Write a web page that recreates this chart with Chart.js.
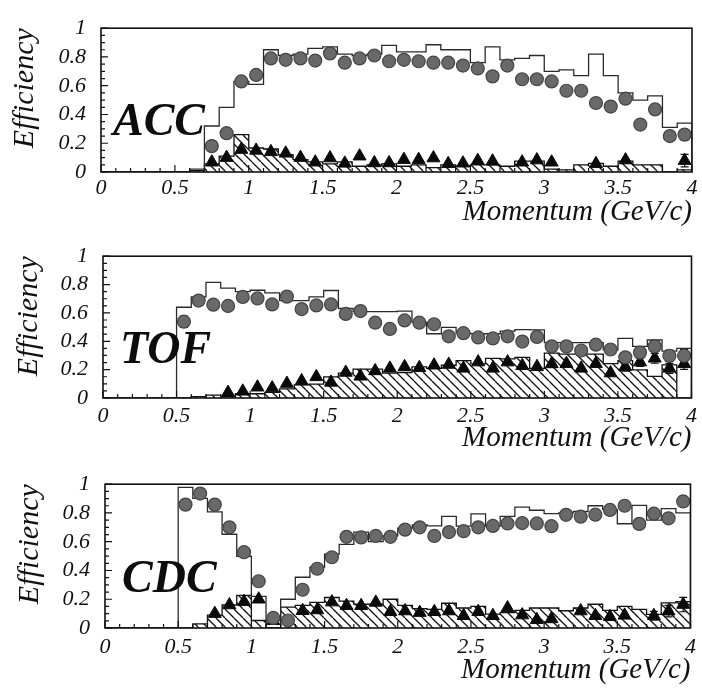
<!DOCTYPE html>
<html>
<head>
<meta charset="utf-8">
<script src="https://cdn.jsdelivr.net/npm/chart.js@4.4.1/dist/chart.umd.min.js"></script>
<style>
  html, body { margin: 0; padding: 0; background: #fff; }
  body { width: 702px; height: 688px; position: relative; overflow: hidden; }
  canvas { position: absolute; left: 0; }
</style>
</head>
<body>
<canvas id="acc" width="702" height="230" style="top:0px"></canvas>
<canvas id="tof" width="702" height="228" style="top:228px"></canvas>
<canvas id="cdc" width="702" height="232" style="top:456px"></canvas>
<script>
// Momentum bins (GeV/c), 0.1 wide, given by their centres
const binCentres = [0.05,0.15,0.25,0.35,0.45,0.55,0.65,0.75,0.85,0.95,
                    1.05,1.15,1.25,1.35,1.45,1.55,1.65,1.75,1.85,1.95,
                    2.05,2.15,2.25,2.35,2.45,2.55,2.65,2.75,2.85,2.95,
                    3.05,3.15,3.25,3.35,3.45,3.55,3.65,3.75,3.85,3.95];
const BIN_HALF = 0.05;
const xTickValues = [0, 0.5, 1, 1.5, 2, 2.5, 3, 3.5, 4];
const yTickValues = [0, 0.2, 0.4, 0.6, 0.8, 1];
const X_TITLE = 'Momentum (GeV/c)';
const Y_TITLE = 'Efficiency';

// ---- ACC ----
const accAll = [0,0,0,0,0,0,0.02,0.32,0.45,0.63,
                0.61,0.85,0.81,0.82,0.86,0.87,0.82,0.81,0.82,0.88,
                0.835,0.835,0.885,0.85,0.85,0.76,0.87,0.78,0.79,0.81,
                0.70,0.71,0.67,0.82,0.67,0.55,0.50,0.53,0.31,0.34];
const accFake = [0,0,0,0,0,0,0.01,0.057,0.11,0.26,
                 0.167,0.16,0.12,0.086,0.07,0.057,0.07,0.04,0.05,0.057,
                 0.04,0.05,0.03,0.05,0.04,0.05,0.05,0.04,0.075,0.075,
                 0.02,0.015,0.05,0.06,0.04,0.075,0.05,0.05,0,0.015];
const accPion = [null,null,null,null,null,null,null,0.18,0.27,0.63,
                 0.675,0.79,0.78,0.79,0.775,0.825,0.76,0.79,0.81,0.77,
                 0.78,0.77,0.76,0.76,0.74,0.72,0.665,0.74,0.645,0.645,
                 0.63,0.565,0.565,0.48,0.455,0.51,0.33,0.435,0.25,0.26];
const accPionErr = [null,null,null,null,null,null,null,null,null,null,
                    null,null,null,null,null,null,null,null,null,null,
                    null,null,null,null,null,null,null,null,null,null,
                    null,0.02,0.02,0.025,0.025,0.03,0.03,0.035,0.03,0.035];
const accKaon = [null,null,null,null,null,null,null,0.068,0.1,0.156,
                 0.15,0.14,0.13,0.1,0.068,0.097,0.06,0.11,0.063,0.063,
                 0.086,0.086,0.097,0.057,0.061,0.079,0.075,null,0.068,0.083,
                 0.068,null,null,0.057,null,0.083,null,null,null,0.079];
const accKaonErr = [null,null,null,null,null,null,null,null,null,null,
                    null,null,null,null,null,null,null,null,null,null,
                    null,null,null,null,null,null,null,null,null,null,
                    null,null,null,null,null,null,null,null,null,0.044];

// ---- TOF ----
const tofAll = [0,0,0,0,0,0.64,0.713,0.815,0.775,0.75,
                0.76,0.742,0.687,0.687,0.713,0.758,0.631,0.609,0.609,0.609,
                0.613,0.535,0.453,0.498,0.457,0.453,0.453,0.471,0.482,0.48,
                0.39,0.39,0.39,0.39,0.34,0.42,0.364,0.409,0.33,0.35];
const tofFake = [0,0,0,0,0,0,0.01,0.02,0.01,0.03,
                 0.03,0.04,0.064,0.093,0.098,0.149,0.176,0.204,0.204,0.176,
                 0.18,0.22,0.209,0.231,0.264,0.24,0.28,0.276,0.287,0.209,
                 0.316,0.31,0.31,0.31,0.242,0.264,0.198,0.153,0.233,0];
const tofPion = [null,null,null,null,null,0.538,0.687,0.658,0.649,0.713,
                 0.702,0.66,0.715,0.627,0.653,0.66,0.593,0.613,0.531,0.487,
                 0.547,0.531,0.52,0.435,0.457,0.427,0.42,0.435,0.398,0.431,
                 0.364,0.364,0.335,0.376,0.342,0.287,0.32,0.364,0.298,0.298];
const tofPionErr = [null,null,null,null,null,0.04,null,null,null,null,
                    null,null,null,null,null,null,null,null,null,null,
                    null,null,null,null,null,null,null,null,null,null,
                    null,null,null,0.025,0.02,0.03,0.035,0.035,0.04,0.045];
const tofKaon = [null,null,null,null,null,null,null,null,0.038,0.047,
                 0.076,0.07,0.102,0.12,0.149,0.11,0.18,0.153,0.191,0.209,
                 0.22,0.213,0.231,0.236,0.209,0.253,0.209,0.253,0.227,0.22,
                 0.24,0.242,0.209,0.242,0.176,0.22,0.253,0.28,0.209,0.242];
const tofKaonErr = [null,null,null,null,null,null,null,null,null,null,
                    null,null,null,null,null,null,null,null,null,null,
                    null,null,null,null,null,null,null,null,null,null,
                    null,null,null,null,null,0.03,0.03,0.035,0.035,0.04];

// ---- CDC ----
const cdcAll = [0,0,0,0,0,0.978,0.902,0.808,0.652,0.499,
                0.22,0,0.2,0.353,0.423,0.514,0.582,0.667,0.6,0.64,
                0.695,0.717,0.71,0.776,0.708,0.793,0.708,0.776,0.841,0.819,
                0.795,0.8,0.81,0.85,0.825,0.725,0.853,0.75,0.83,0.8];
const cdcFake = [0,0,0,0,0,0,0.028,0.09,0.16,0.227,
                 0.052,0,0.145,0.158,0.178,0.212,0.187,0.165,0.165,0.2,
                 0.157,0.135,0.13,0.172,0.139,0.15,0.096,0.107,0.122,0.139,
                 0.139,0.12,0.139,0.165,0.122,0.15,0.13,0.095,0.175,0.183];
const cdcPion = [null,null,null,null,null,0.858,0.935,0.858,0.70,0.527,
                 0.325,0.07,0.052,0.266,0.412,0.492,0.634,0.63,0.64,0.634,
                 0.684,0.70,0.64,0.667,0.673,0.70,0.71,0.727,0.73,0.727,
                 0.708,0.787,0.774,0.788,0.821,0.85,0.724,0.795,0.763,0.88];
const cdcPionErr = [null,null,null,null,null,null,null,null,null,null,
                    null,null,null,null,null,null,null,null,null,null,
                    null,null,null,null,null,null,null,null,null,null,
                    null,null,null,null,null,0.03,0.035,0.035,0.035,0.035];
const cdcKaon = [null,null,null,null,null,null,null,0.1,0.16,0.183,
                 0.2,0.05,null,0.12,0.125,0.18,0.155,0.155,0.178,0.113,
                 0.118,0.107,0.113,0.118,0.085,0.113,0.085,0.139,0.09,0.057,
                 0.063,null,0.118,0.085,0.078,0.088,null,0.085,0.117,0.163];
const cdcKaonErr = [null,null,null,null,null,null,null,null,null,null,
                    null,null,null,null,null,null,null,null,null,null,
                    null,null,null,null,null,null,null,null,null,null,
                    null,null,null,null,null,null,null,0.03,0.04,0.05];

const SERIF = '"Liberation Serif", "Times New Roman", Times, serif';
const INK = '#111';

// histogram outline: one point per bin low edge, held until the next edge
function stepPoints(values) {
  const pts = values.map((v, i) => ({ x: +(binCentres[i] - BIN_HALF).toFixed(2), y: v }));
  const last = values.length - 1;
  const hi = +(binCentres[last] + BIN_HALF).toFixed(2);
  pts.push({ x: hi, y: values[last] });
  pts.push({ x: hi, y: 0 });
  return pts;
}

function markerPoints(values, errors) {
  const pts = [];
  values.forEach((v, i) => {
    if (v !== null) pts.push({ x: binCentres[i], y: v, err: errors[i] });
  });
  return pts;
}

function makeHatch() {
  const s = 9;
  const c = document.createElement('canvas');
  c.width = s; c.height = s;
  const g = c.getContext('2d');
  g.strokeStyle = '#111';
  g.lineWidth = 1.3;
  for (const o of [-s, 0, s]) {
    g.beginPath();
    g.moveTo(o, 0);
    g.lineTo(o + s, s);
    g.stroke();
  }
  return g.createPattern(c, 'repeat');
}

// vertical error bars with short caps, drawn just before the marker dataset
const errorBarPlugin = {
  id: 'errorBars',
  beforeDatasetDraw(chart, args) {
    const ds = chart.data.datasets[args.index];
    if (!ds.withErrors) return;
    const { ctx, scales: { x, y } } = chart;
    ctx.save();
    ctx.strokeStyle = '#111';
    ctx.lineWidth = 1.2;
    for (const p of ds.data) {
      if (p.err == null) continue;
      const px = x.getPixelForValue(p.x);
      const yt = y.getPixelForValue(p.y + p.err);
      const yb = y.getPixelForValue(p.y - p.err);
      ctx.beginPath();
      ctx.moveTo(px, yt); ctx.lineTo(px, yb);
      ctx.moveTo(px - 4, yt); ctx.lineTo(px + 4, yt);
      ctx.moveTo(px - 4, yb); ctx.lineTo(px + 4, yb);
      ctx.stroke();
    }
    ctx.restore();
  }
};

// frame with inward ticks on the left and bottom edges, plus the detector name
const framePlugin = {
  id: 'panelFrame',
  afterDatasetsDraw(chart, args, opts) {
    const { ctx, chartArea: a, scales: { x, y } } = chart;
    ctx.save();
    ctx.strokeStyle = '#111';
    ctx.lineWidth = 1.6;
    ctx.strokeRect(a.left, a.top, a.right - a.left, a.bottom - a.top);
    ctx.lineWidth = 1.2;
    ctx.beginPath();
    for (let k = 0; k <= 40; k++) {
      const v = k / 10;
      const len = k % 5 === 0 ? 7 : 4;
      const px = x.getPixelForValue(v);
      ctx.moveTo(px, a.bottom); ctx.lineTo(px, a.bottom - len);
    }
    for (let k = 0; k <= 20; k++) {
      const v = k / 20;
      const len = k % 4 === 0 ? 7 : 4;
      const py = y.getPixelForValue(v);
      ctx.moveTo(a.left, py); ctx.lineTo(a.left + len, py);
    }
    ctx.stroke();
    ctx.fillStyle = '#0d0d0d';
    ctx.font = 'italic bold 46px ' + SERIF;
    ctx.textBaseline = 'alphabetic';
    ctx.fillText(opts.name, a.left + opts.dx, a.top + opts.dy);
    ctx.restore();
  }
};

const fmt = v => String(Math.round(v * 10) / 10);

function makePanel(id, name, geo, all, fake, pion, pionErr, kaon, kaonErr) {
  const hatch = makeHatch();
  return new Chart(document.getElementById(id), {
    type: 'line',
    data: {
      datasets: [
        { type: 'line', data: stepPoints(fake), stepped: true, borderColor: '#111', borderWidth: 1.3,
          backgroundColor: hatch, fill: 'origin', pointRadius: 0, order: 4 },
        { type: 'line', data: stepPoints(all), stepped: true, borderColor: '#2a2a2a', borderWidth: 1.3,
          fill: false, pointRadius: 0, order: 3 },
        { type: 'scatter', data: markerPoints(kaon, kaonErr), withErrors: true, pointStyle: 'triangle',
          pointRadius: 7.5, backgroundColor: '#0a0a0a', borderColor: '#0a0a0a', borderWidth: 1, order: 2 },
        { type: 'scatter', data: markerPoints(pion, pionErr), withErrors: true, pointStyle: 'circle',
          pointRadius: 6.5, backgroundColor: '#696969', borderColor: '#444', borderWidth: 1.2, order: 1 }
      ]
    },
    options: {
      responsive: false,
      animation: false,
      devicePixelRatio: 1,
      layout: { padding: { top: geo.padTop, right: 702 - geo.right, left: 0, bottom: 0 } },
      plugins: {
        legend: { display: false },
        tooltip: { enabled: false },
        panelFrame: { name: name, dx: geo.nameDx, dy: geo.nameDy }
      },
      scales: {
        x: {
          type: 'linear', min: 0, max: 4,
          grid: { display: false, drawTicks: false },
          border: { display: false },
          afterBuildTicks: s => { s.ticks = xTickValues.map(v => ({ value: v })); },
          ticks: { autoSkip: false, maxRotation: 0, padding: geo.xTickPad, color: INK, callback: fmt,
                   font: { family: SERIF, size: 22, style: 'italic' } },
          title: { display: true, text: X_TITLE, align: 'end', color: INK,
                   padding: { top: 0, bottom: 0 },
                   font: { family: SERIF, size: 29, style: 'italic' } },
          afterFit: s => { s.height = geo.axisHeight; }
        },
        y: {
          type: 'linear', min: 0, max: 1,
          grid: { display: false, drawTicks: false },
          border: { display: false },
          afterBuildTicks: s => { s.ticks = yTickValues.map(v => ({ value: v })); },
          ticks: { autoSkip: false, padding: 15, color: INK, callback: fmt,
                   font: { family: SERIF, size: 22, style: 'italic' } },
          title: { display: true, text: Y_TITLE, align: 'end', color: INK,
                   padding: { top: geo.yTitlePad, bottom: 0 },
                   font: { family: SERIF, size: 30, style: 'italic' } },
          afterFit: s => { s.width = geo.left; }
        }
      }
    },
    plugins: [errorBarPlugin, framePlugin]
  });
}

makePanel('acc', 'ACC', { padTop: 20, axisHeight: 58, left: 101, right: 692, xTickPad: 3, yTitlePad: 7, nameDx: 12, nameDy: 107 },
          accAll, accFake, accPion, accPionErr, accKaon, accKaonErr);
makePanel('tof', 'TOF', { padTop: 20, axisHeight: 58, left: 103, right: 694, xTickPad: 5, yTitlePad: 11, nameDx: 17, nameDy: 107 },
          tofAll, tofFake, tofPion, tofPionErr, tofKaon, tofKaonErr);
makePanel('cdc', 'CDC', { padTop: 19, axisHeight: 60, left: 105, right: 697, xTickPad: 6, yTitlePad: 12, nameDx: 17, nameDy: 108 },
          cdcAll, cdcFake, cdcPion, cdcPionErr, cdcKaon, cdcKaonErr);
</script>
</body>
</html>
